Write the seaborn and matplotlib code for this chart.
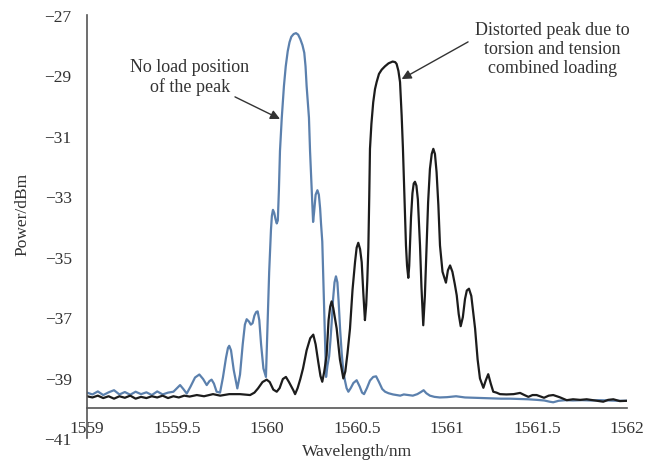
import numpy as np
import pandas as pd
import seaborn as sns
import matplotlib.pyplot as plt

# spectrum with no load (blue)
blue_wl = [1559.00, 1559.03, 1559.06, 1559.09, 1559.12, 1559.15, 1559.18, 1559.21, 1559.24, 1559.27,
           1559.30, 1559.33, 1559.36, 1559.39, 1559.42, 1559.45, 1559.48, 1559.50, 1559.517, 1559.535,
           1559.554, 1559.575, 1559.60, 1559.624, 1559.645, 1559.665, 1559.68, 1559.692, 1559.705, 1559.72,
           1559.739, 1559.755, 1559.772, 1559.783, 1559.79, 1559.80, 1559.815, 1559.835, 1559.85, 1559.865,
           1559.877, 1559.887, 1559.90, 1559.91, 1559.92, 1559.93, 1559.94, 1559.948, 1559.957, 1559.967,
           1559.98, 1559.994, 1560.000, 1560.006, 1560.012, 1560.017, 1560.022, 1560.027, 1560.033, 1560.040,
           1560.047, 1560.054, 1560.060, 1560.066, 1560.072, 1560.082, 1560.094, 1560.104, 1560.115, 1560.125,
           1560.135, 1560.148, 1560.161, 1560.173, 1560.185, 1560.197, 1560.207, 1560.214, 1560.220, 1560.227,
           1560.233, 1560.239, 1560.244, 1560.248, 1560.252, 1560.256, 1560.262, 1560.270, 1560.280, 1560.288,
           1560.295, 1560.300, 1560.307, 1560.313, 1560.320, 1560.328, 1560.336, 1560.345, 1560.352, 1560.359,
           1560.367, 1560.375, 1560.383, 1560.391, 1560.398, 1560.406, 1560.415, 1560.424, 1560.433, 1560.442,
           1560.452, 1560.465, 1560.48, 1560.498, 1560.515, 1560.528, 1560.539, 1560.555, 1560.572, 1560.59,
           1560.606, 1560.622, 1560.64, 1560.656, 1560.675, 1560.70, 1560.72, 1560.74, 1560.76, 1560.783,
           1560.81, 1560.835, 1560.855, 1560.87, 1560.885, 1560.905, 1560.93, 1560.96, 1561.00, 1561.05,
           1561.10, 1561.15, 1561.20, 1561.25, 1561.30, 1561.35, 1561.40, 1561.45, 1561.50, 1561.54,
           1561.57, 1561.59, 1561.62, 1561.66, 1561.70, 1561.75, 1561.80, 1561.85, 1561.90, 1561.95,
           1562.00]
blue_dbm = [-39.50, -39.56, -39.46, -39.58, -39.49, -39.42, -39.56, -39.48, -39.57, -39.47,
            -39.55, -39.49, -39.58, -39.46, -39.56, -39.50, -39.47, -39.35, -39.25, -39.38,
            -39.53, -39.30, -39.00, -38.90, -39.05, -39.25, -39.12, -39.07, -39.20, -39.47,
            -39.50, -39.00, -38.35, -38.02, -37.95, -38.10, -38.75, -39.36, -38.90, -37.90,
            -37.25, -37.07, -37.15, -37.25, -37.20, -36.95, -36.83, -36.81, -37.10, -37.90,
            -38.70, -38.98, -37.80, -36.50, -35.50, -34.80, -34.10, -33.65, -33.45, -33.55,
            -33.75, -33.90, -33.80, -32.80, -31.50, -30.40, -29.35, -28.70, -28.20, -27.90,
            -27.72, -27.63, -27.60, -27.65, -27.80, -28.00, -28.25, -28.70, -29.35, -29.90,
            -30.40, -31.50, -32.20, -32.70, -33.40, -33.85, -33.50, -32.95, -32.80, -32.95,
            -33.40, -33.90, -34.50, -35.80, -37.40, -38.98, -38.60, -38.30, -37.80, -37.20,
            -36.40, -35.85, -35.65, -35.85, -36.50, -37.40, -38.20, -38.80, -39.10, -39.35,
            -39.47, -39.35, -39.18, -39.09, -39.30, -39.50, -39.55, -39.35, -39.10, -38.98,
            -38.96, -39.15, -39.38, -39.47, -39.52, -39.56, -39.58, -39.60, -39.56, -39.58,
            -39.60, -39.55, -39.48, -39.42, -39.52, -39.60, -39.64, -39.66, -39.65, -39.62,
            -39.66, -39.67, -39.68, -39.69, -39.70, -39.70, -39.71, -39.72, -39.74, -39.76,
            -39.80, -39.82, -39.77, -39.75, -39.76, -39.75, -39.76, -39.75, -39.76, -39.77,
            -39.77]

# spectrum under torsion + tension (black)
black_wl = [1559.00, 1559.03, 1559.06, 1559.09, 1559.12, 1559.15, 1559.18, 1559.21, 1559.24, 1559.27,
            1559.30, 1559.33, 1559.36, 1559.39, 1559.42, 1559.45, 1559.48, 1559.51, 1559.54, 1559.57,
            1559.61, 1559.65, 1559.70, 1559.74, 1559.79, 1559.85, 1559.906, 1559.93, 1559.95, 1559.975,
            1559.998, 1560.015, 1560.035, 1560.054, 1560.07, 1560.088, 1560.105, 1560.122, 1560.146, 1560.156,
            1560.17, 1560.185, 1560.20, 1560.22, 1560.24, 1560.257, 1560.27, 1560.285, 1560.297, 1560.307,
            1560.318, 1560.331, 1560.342, 1560.351, 1560.359, 1560.368, 1560.387, 1560.405, 1560.424, 1560.435,
            1560.447, 1560.461, 1560.475, 1560.489, 1560.498, 1560.507, 1560.517, 1560.526, 1560.535, 1560.544,
            1560.551, 1560.557, 1560.563, 1560.568, 1560.572, 1560.58, 1560.59, 1560.60, 1560.609, 1560.622,
            1560.637, 1560.655, 1560.675, 1560.698, 1560.712, 1560.72, 1560.73, 1560.739, 1560.748, 1560.755,
            1560.761, 1560.767, 1560.772, 1560.778, 1560.785, 1560.79, 1560.794, 1560.80, 1560.808, 1560.815,
            1560.822, 1560.83, 1560.838, 1560.845, 1560.85, 1560.858, 1560.868, 1560.877, 1560.887, 1560.895,
            1560.905, 1560.915, 1560.924, 1560.933, 1560.942, 1560.952, 1560.961, 1560.975, 1560.994, 1561.005,
            1561.017, 1561.03, 1561.043, 1561.054, 1561.065, 1561.076, 1561.088, 1561.10, 1561.11, 1561.122,
            1561.135, 1561.145, 1561.156, 1561.17, 1561.183, 1561.202, 1561.215, 1561.229, 1561.243, 1561.257,
            1561.275, 1561.294, 1561.33, 1561.37, 1561.406, 1561.43, 1561.452, 1561.475, 1561.498, 1561.52,
            1561.539, 1561.565, 1561.59, 1561.625, 1561.665, 1561.70, 1561.74, 1561.776, 1561.82, 1561.868,
            1561.895, 1561.924, 1561.96, 1562.00]
black_dbm = [-39.62, -39.66, -39.60, -39.68, -39.62, -39.70, -39.62, -39.67, -39.60, -39.70,
             -39.64, -39.68, -39.62, -39.66, -39.60, -39.68, -39.62, -39.66, -39.60, -39.63,
             -39.58, -39.62, -39.55, -39.60, -39.55, -39.55, -39.58, -39.50, -39.36, -39.15,
             -39.07, -39.15, -39.40, -39.47, -39.35, -39.05, -38.98, -39.15, -39.42, -39.55,
             -39.35, -39.05, -38.70, -38.10, -37.70, -37.58, -37.90, -38.50, -38.95, -39.14,
             -38.80, -38.27, -37.10, -36.65, -36.48, -36.70, -37.38, -38.40, -39.03, -38.80,
             -38.20, -37.38, -36.10, -35.18, -34.70, -34.54, -34.75, -35.18, -36.20, -37.10,
             -36.60, -35.80, -34.70, -33.00, -31.43, -30.60, -29.89, -29.45, -29.22, -28.95,
             -28.81, -28.70, -28.60, -28.54, -28.56, -28.62, -28.85, -29.22, -30.33, -31.40,
             -32.53, -33.60, -34.63, -35.30, -35.70, -35.30, -34.63, -33.70, -32.90, -32.58,
             -32.52, -32.65, -33.10, -34.00, -34.63, -36.00, -37.27, -36.30, -34.63, -33.20,
             -32.10, -31.60, -31.43, -31.60, -32.20, -33.30, -34.63, -35.50, -35.86, -35.45,
             -35.29, -35.50, -35.90, -36.28, -36.90, -37.30, -37.00, -36.40, -36.12, -36.06,
             -36.30, -36.80, -37.38, -38.40, -39.03, -39.34, -39.10, -38.89, -39.20, -39.47,
             -39.50, -39.55, -39.56, -39.55, -39.51, -39.58, -39.64, -39.58, -39.58, -39.63,
             -39.67, -39.60, -39.58, -39.65, -39.75, -39.72, -39.74, -39.72, -39.76, -39.80,
             -39.74, -39.72, -39.78, -39.77]

x_ticks = [1559, 1559.5, 1560, 1560.5, 1561, 1561.5, 1562]
x_tick_labels = ["1559", "1559.5", "1560", "1560.5", "1561", "1561.5", "1562"]
y_ticks = [-27, -29, -31, -33, -35, -37, -39, -41]

sns.set_theme(style="white")
plt.rcParams['font.family'] = ['Liberation Serif', 'DejaVu Serif']

blue_df = pd.DataFrame({"wl": blue_wl, "dbm": blue_dbm})
black_df = pd.DataFrame({"wl": black_wl, "dbm": black_dbm})

fig, ax = plt.subplots(figsize=(6.48, 4.64), dpi=100)
fig.subplots_adjust(left=0.1343, right=0.9676, bottom=0.054, top=0.9655)

sns.lineplot(data=blue_df, x="wl", y="dbm", ax=ax, color="#5b80ad", lw=1.6)
sns.lineplot(data=black_df, x="wl", y="dbm", ax=ax, color="#1c1c1c", lw=1.6)

ax.set_xlim(1559, 1562)
ax.set_ylim(-41, -27)
ax.set_xticks(x_ticks)
ax.set_xticklabels(x_tick_labels)
ax.set_yticks(y_ticks)

ax.spines['top'].set_visible(False)
ax.spines['right'].set_visible(False)
ax.spines['bottom'].set_position(('data', -40))
for s in ['left', 'bottom']:
    ax.spines[s].set_color('#555555')
    ax.spines[s].set_linewidth(1.2)

ax.tick_params(axis='both', length=0, labelsize=12.5, labelcolor='#333333')
ax.tick_params(axis='x', pad=9)
ax.tick_params(axis='y', pad=11)

ax.set_xlabel("Wavelength/nm", fontsize=12.5, color='#333333', va='center')
ax.set_ylabel("Power/dBm", fontsize=12.5, color='#333333', va='center')
ax.xaxis.set_label_coords(0.5, -0.031)
ax.yaxis.set_label_coords(-0.12, 0.532)

txt = dict(fontsize=13, color='#333333', ha='center', va='center', linespacing=1.15)
arr = dict(arrowstyle='-|>', color='#333333', lw=1.0, mutation_scale=14, shrinkA=0, shrinkB=0)

ax.text(1559.572, -29.05, "No load position\nof the peak", **txt)
ax.annotate("", xy=(1560.072, -30.44), xytext=(1559.822, -29.71), arrowprops=arr)

ax.text(1561.586, -28.12, "Distorted peak due to\ntorsion and tension\ncombined loading", **txt)
ax.annotate("", xy=(1560.748, -29.12), xytext=(1561.117, -27.89), arrowprops=arr)

plt.savefig("out.png", dpi=100)
